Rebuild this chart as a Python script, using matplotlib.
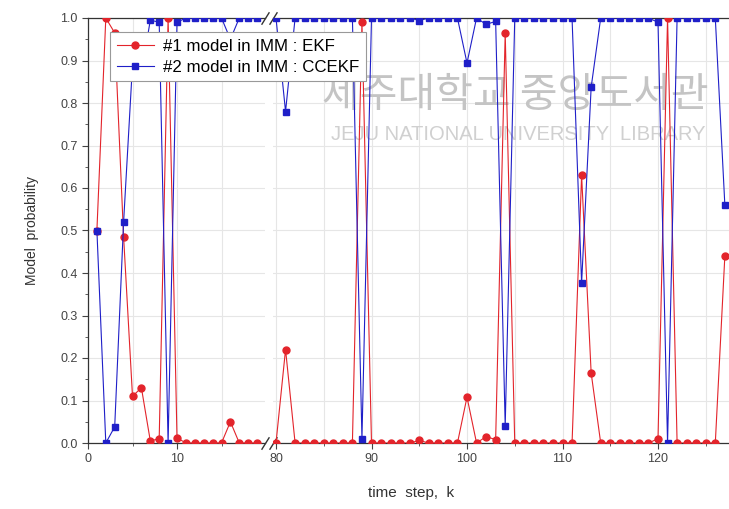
import numpy as np
import matplotlib.pyplot as plt
from matplotlib.ticker import MultipleLocator, FormatStrFormatter

plt.rcParams['font.family'] = ['Liberation Sans', 'Noto Sans CJK KR', 'DejaVu Sans']

# time steps shown on the two pieces of the broken axis
k_left = np.arange(1, 20)
k_right = np.arange(80, 128)

# model probabilities
ekf_left = [0.5, 1.0, 0.965, 0.485, 0.11, 0.13, 0.005, 0.01, 1.0, 0.012,
            0.0, 0.0, 0.0, 0.0, 0.0, 0.05, 0.0, 0.0, 0.0]
ccekf_left = [0.5, 0.0, 0.038, 0.52, 0.89, 0.87, 0.995, 0.99, 0.0, 0.99,
              1.0, 1.0, 1.0, 1.0, 1.0, 0.95, 1.0, 1.0, 1.0]

ekf_right = [0.0, 0.22, 0.0, 0.0, 0.0, 0.0, 0.0, 0.0, 0.0, 0.99,
             0.0, 0.0, 0.0, 0.0, 0.0, 0.006, 0.0, 0.0, 0.0, 0.0,
             0.108, 0.0, 0.015, 0.008, 0.965, 0.0, 0.0, 0.0, 0.0, 0.0,
             0.0, 0.0, 0.63, 0.165, 0.0, 0.0, 0.0, 0.0, 0.0, 0.0,
             0.01, 1.0, 0.0, 0.0, 0.0, 0.0, 0.0, 0.44]
ccekf_right = [1.0, 0.78, 1.0, 1.0, 1.0, 1.0, 1.0, 1.0, 1.0, 0.01,
               1.0, 1.0, 1.0, 1.0, 1.0, 0.994, 1.0, 1.0, 1.0, 1.0,
               0.894, 1.0, 0.985, 0.992, 0.04, 1.0, 1.0, 1.0, 1.0, 1.0,
               1.0, 1.0, 0.376, 0.837, 1.0, 1.0, 1.0, 1.0, 1.0, 1.0,
               0.99, 0.0, 1.0, 1.0, 1.0, 1.0, 1.0, 0.56]

labels = ['#1 model in IMM : EKF', '#2 model in IMM : CCEKF']
RED = '#e3242b'
BLUE = '#1f1fc8'
TICK_COLOR = '#444444'

fig = plt.figure(figsize=(7.29, 5.09), dpi=100)
W, H = 729, 509
bottom = (H - 443) / H
height = 425 / H
ax1 = fig.add_axes([88 / W, bottom, (265 - 88) / W, height])
ax2 = fig.add_axes([273 / W, bottom, (745 - 273) / W, height])

ax1.set_xlim(0, (265 - 88) / 8.9)
ax2.set_xlim(80 - 3 / 9.55, 80 + (745 - 276) / 9.55)

series = [(ax1, k_left, ekf_left, ccekf_left), (ax2, k_right, ekf_right, ccekf_right)]
for ax, k, ekf, ccekf in series:
    ax.plot(k, ekf, color=RED, lw=0.8, marker='o', ms=5, mec=RED, mfc=RED,
            label=labels[0], zorder=3)
    ax.plot(k, ccekf, color=BLUE, lw=0.8, marker='s', ms=4.2, mec=BLUE, mfc=BLUE,
            label=labels[1], zorder=4)
    ax.set_ylim(0, 1.0)
    ax.yaxis.set_major_locator(MultipleLocator(0.1))
    ax.yaxis.set_minor_locator(MultipleLocator(0.05))
    ax.xaxis.set_major_locator(MultipleLocator(10))
    ax.xaxis.set_minor_locator(MultipleLocator(5))
    ax.grid(True, which='major', axis='y', color='#e6e6e6', lw=0.8)
    ax.grid(True, which='both', axis='x', color='#e6e6e6', lw=0.8)
    ax.set_axisbelow(True)
    ax.tick_params(which='both', direction='out', colors=TICK_COLOR,
                   labelsize=9, top=False, right=False)
    ax.tick_params(which='major', length=4)
    ax.tick_params(which='minor', length=2.5)
    for s in ax.spines.values():
        s.set_color('#333333')
        s.set_linewidth(0.9)

ax1.yaxis.set_major_formatter(FormatStrFormatter('%.1f'))
ax1.spines['right'].set_visible(False)
ax2.spines['left'].set_visible(False)
ax2.tick_params(axis='y', which='both', left=False, labelleft=False)

# break marks
mk = [(-1, -1.6), (1, 1.6)]
kw = dict(marker=mk, markersize=9, linestyle='none', color='#333333', mew=1, clip_on=False)
ax1.plot([1, 1], [0, 1], transform=ax1.transAxes, **kw)
ax2.plot([0, 0], [0, 1], transform=ax2.transAxes, **kw)

ax1.set_ylabel('Model  probability', fontsize=10, color='#333333', labelpad=15)
fig.text(411 / W, 1 - 493 / H, 'time  step,  k', ha='center', va='center',
         fontsize=11, color='#333333')

# faint library watermark, under the data lines
ax2.text(515 / W, 1 - 96 / H, '제주대학교 중앙도서관', transform=fig.transFigure,
         ha='center', va='center', fontsize=29.5, color='#c4c4c4',
         family=['Noto Sans CJK KR'], zorder=1)
ax2.text(518 / W, 1 - 135 / H, 'JEJU NATIONAL UNIVERSITY  LIBRARY', transform=fig.transFigure,
         ha='center', va='center', fontsize=14.5, color='#d0d0d0', zorder=1)

handles, _ = ax1.get_legend_handles_labels()
leg = fig.legend(handles, labels, loc='upper left',
                 bbox_to_anchor=(110 / W, 1 - 32 / H), fontsize=12.2,
                 frameon=True, fancybox=False, edgecolor='#999999', framealpha=1,
                 handlelength=2.2, borderpad=0.4, labelspacing=0.35,
                 handletextpad=0.5, borderaxespad=0)
leg.get_frame().set_linewidth(0.8)

fig.savefig('out.png', dpi=100)
